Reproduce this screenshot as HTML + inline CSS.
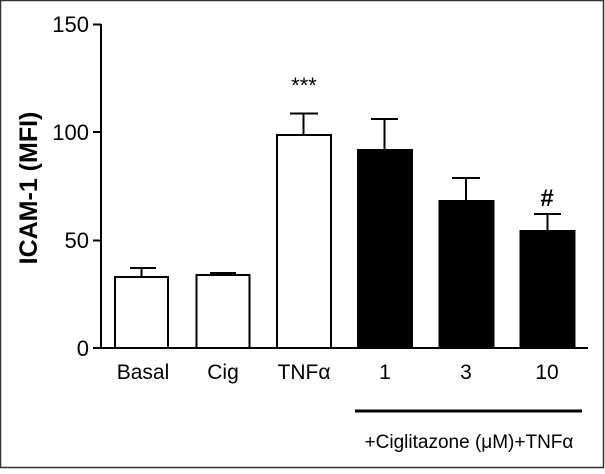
<!DOCTYPE html>
<html><head><style>body{margin:0;background:#fff}</style></head><body>
<svg width="605" height="469" xmlns="http://www.w3.org/2000/svg" font-family="Liberation Sans, sans-serif">
<rect x="0.5" y="0.5" width="603" height="467" fill="#fff" stroke="#333" stroke-width="1.5"/>
<g stroke="#000" stroke-width="2" fill="none">
<line x1="101" y1="24" x2="101" y2="349"/>
<line x1="100" y1="348" x2="588" y2="348"/>
<line x1="93" y1="24.5" x2="101" y2="24.5"/>
<line x1="93" y1="132" x2="101" y2="132"/>
<line x1="93" y1="240.5" x2="101" y2="240.5"/>
<line x1="93" y1="348" x2="101" y2="348"/>
<line x1="141.5" y1="277" x2="141.5" y2="268"/><line x1="130" y1="268" x2="156" y2="268"/>
<line x1="223" y1="275" x2="223" y2="273"/><line x1="210" y1="273" x2="236" y2="273"/>
<line x1="303.5" y1="135" x2="303.5" y2="113.5"/><line x1="290" y1="113.5" x2="318" y2="113.5"/>
<line x1="384.5" y1="150" x2="384.5" y2="119"/><line x1="371" y1="119" x2="398" y2="119"/>
<line x1="466" y1="201" x2="466" y2="178"/><line x1="452" y1="178" x2="480" y2="178"/>
<line x1="547.5" y1="231" x2="547.5" y2="214"/><line x1="534" y1="214" x2="561" y2="214"/>
</g>
<g stroke="#000" stroke-width="2">
<rect x="115" y="277" width="53" height="71" fill="#fff"/>
<rect x="196.5" y="275" width="53" height="73" fill="#fff"/>
<rect x="277" y="135" width="54" height="213" fill="#fff"/>
<rect x="358" y="150" width="54" height="198" fill="#000"/>
<rect x="439.5" y="201" width="54" height="147" fill="#000"/>
<rect x="520.5" y="231" width="54" height="117" fill="#000"/>
</g>
<line x1="355" y1="411" x2="582" y2="411" stroke="#000" stroke-width="3"/>
<g font-size="22" fill="#000" text-anchor="end">
<text x="89" y="32">150</text><text x="89" y="140">100</text><text x="89" y="248">50</text><text x="89" y="356">0</text>
</g>
<g font-size="21" fill="#000" text-anchor="middle">
<text x="143" y="379">Basal</text><text x="223" y="379">Cig</text><text x="304" y="379">TNFα</text>
<text x="385" y="379">1</text><text x="466" y="379">3</text><text x="547" y="379">10</text>
<text x="304" y="93" font-size="22">***</text>
<text x="547" y="206" font-size="24" font-weight="bold">#</text>
<text x="469" y="448" font-size="19">+Ciglitazone (μM)+TNFα</text>
</g>
<text transform="translate(37,188) rotate(-90)" font-size="25" font-weight="bold" text-anchor="middle">ICAM-1 (MFI)</text>
</svg>
</body></html>
